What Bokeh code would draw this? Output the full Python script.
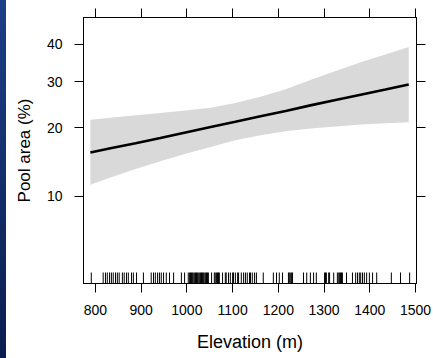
import numpy as np
from bokeh.plotting import figure
from bokeh.models import (Range1d, LinearAxis, FixedTicker, Div, CustomJSTickFormatter,
                          CustomLabelingPolicy)
from bokeh.layouts import row
from bokeh.embed import file_html
from bokeh.resources import INLINE

# ---------------- data ----------------
elevation_fit = [789, 833, 888, 942, 997, 1052, 1106, 1161, 1216, 1270, 1325, 1380, 1434, 1485]
pool_fit = [15.7, 16.4, 17.2, 18.1, 19.1, 20.1, 21.1, 22.2, 23.3, 24.5, 25.7, 26.9, 28.1, 29.3]
pool_upper = [21.5, 21.9, 22.4, 22.9, 23.4, 24.0, 25.0, 26.4, 28.2, 30.4, 32.7, 35.0, 37.1, 39.2]
pool_lower = [11.3, 12.2, 13.3, 14.4, 15.5, 16.6, 17.7, 18.6, 19.3, 19.8, 20.2, 20.6, 20.8, 21.0]

rug_elevation = [
    791, 817, 822, 826, 831, 835, 839, 844, 848, 852, 859, 863, 868, 872, 879, 883, 890,
    905, 922, 927, 931, 936, 940, 944, 949, 955, 962, 971, 988, 995,
    1003, 1006, 1008, 1010, 1012, 1014, 1017, 1019, 1021, 1023, 1025, 1028, 1030, 1032,
    1034, 1036, 1038, 1041, 1043, 1045, 1047, 1054, 1060, 1062, 1065, 1067, 1069, 1071,
    1078, 1084, 1086, 1091, 1095, 1100, 1102, 1106, 1111, 1113, 1119, 1124, 1128, 1132,
    1137, 1139, 1143, 1148, 1152, 1167, 1189, 1196, 1202, 1209, 1222, 1224, 1227, 1229,
    1231, 1255, 1262, 1270, 1277, 1283, 1301, 1303, 1305, 1310, 1312, 1321, 1329, 1332,
    1334, 1336, 1338, 1340, 1349, 1362, 1369, 1373, 1377, 1380, 1384, 1388, 1393, 1399,
    1406, 1415, 1447, 1467, 1487,
]

x_ticks = [800, 900, 1000, 1100, 1200, 1300, 1400, 1500]
y_ticks = [10, 20, 30, 40]
x_limits = (774, 1502)
y_limits_pct = (3.84, 47.7)

x_label = "Elevation (m)"
y_label = "Pool area (%)"

# ---------------- style ----------------
FONT = "Liberation Sans"
RUG_FRAC = 11 / 266


def logit(pct):
    pct = np.asarray(pct, dtype=float)
    return np.log(pct / (100.0 - pct))


p = figure(
    width=427, height=358,
    output_backend="svg", toolbar_location=None,
    x_range=Range1d(*x_limits),
    y_range=Range1d(float(logit(y_limits_pct[0])), float(logit(y_limits_pct[1]))),
    min_border_left=77, min_border_right=17, min_border_top=17, min_border_bottom=75,
    background_fill_color="white", border_fill_color="white",
    outline_line_color="black", outline_line_width=1,
)
p.extra_y_ranges = {"panel": Range1d(0, 1)}
p.xgrid.visible = False
p.ygrid.visible = False

# confidence band and fitted line
p.varea(x=elevation_fit, y1=logit(pool_lower), y2=logit(pool_upper),
        fill_color="#d9d9d9", fill_alpha=1.0)
p.line(x=elevation_fit, y=logit(pool_fit), line_color="black", line_width=2.6)

# rug
p.segment(x0=rug_elevation, x1=rug_elevation,
          y0=[0] * len(rug_elevation), y1=[RUG_FRAC] * len(rug_elevation),
          y_range_name="panel", line_color="black", line_width=1)

y_tick_vals = [float(v) for v in logit(y_ticks)]
pct_fmt = CustomJSTickFormatter(code="return Math.round(100/(1+Math.exp(-tick))).toString();")

no_labels = CustomLabelingPolicy(code="""
if (indices != null && typeof indices.unset === "function") {
    const n = indices.size;
    for (let i = 0; i < n; i++) { indices.unset(i); }
    return indices;
}
return new Set();
""")


def style_axis(ax, labels=True):
    ax.minor_tick_line_color = None
    ax.major_tick_in = 0
    ax.major_tick_out = 9
    ax.major_tick_line_color = "black"
    ax.axis_line_color = "black"
    if labels:
        ax.major_label_text_font = FONT
        ax.major_label_text_font_size = "14px"
        ax.major_label_text_color = "black"
        ax.axis_label_text_font = FONT
        ax.axis_label_text_font_style = "normal"
        ax.axis_label_text_color = "black"
    else:
        ax.major_label_policy = no_labels
        ax.major_label_text_font_size = "1px"
        ax.major_label_standoff = 0


xb = p.xaxis[0]
xb.ticker = FixedTicker(ticks=x_ticks)
style_axis(xb)
xb.major_label_standoff = 12
xb.axis_label = x_label
xb.axis_label_text_font_size = "18px"
xb.axis_label_standoff = 14

yl = p.yaxis[0]
yl.ticker = FixedTicker(ticks=y_tick_vals)
yl.formatter = pct_fmt
style_axis(yl)
yl.major_label_standoff = 12
yl.axis_label = y_label
yl.axis_label_text_font_size = "17px"
yl.axis_label_standoff = 10

xt = LinearAxis(ticker=FixedTicker(ticks=x_ticks))
style_axis(xt, labels=False)
p.add_layout(xt, "above")

yr = LinearAxis(ticker=FixedTicker(ticks=y_tick_vals))
style_axis(yr, labels=False)
p.add_layout(yr, "right")

strip = Div(text="", width=6, height=358, margin=0,
            styles={"background": "linear-gradient(to bottom, #1d3f86, #0b1d4f)"})

layout = row(strip, p, spacing=0)

open("out.html", "w").write(file_html(layout, INLINE))
